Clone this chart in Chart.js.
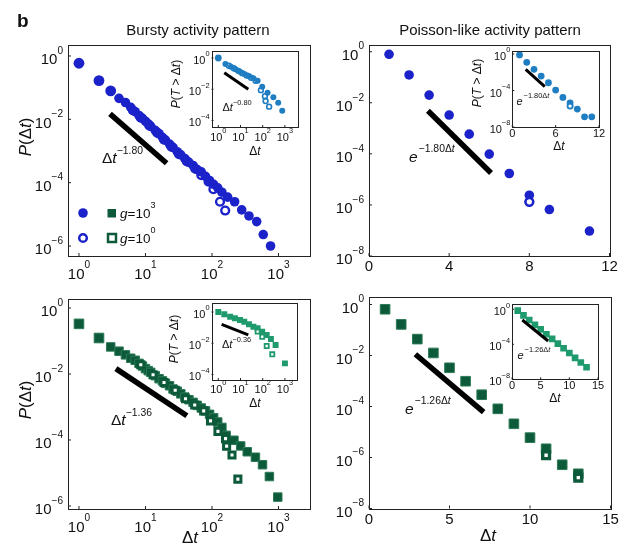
<!DOCTYPE html>
<html>
<head>
<meta charset="utf-8">
<script src="https://cdn.jsdelivr.net/npm/chart.js@4.4.1/dist/chart.umd.min.js"></script>
<style>
  html, body { margin: 0; padding: 0; background: #fff; }
  #fig { position: relative; width: 626px; height: 545px; overflow: hidden; }
  #fig canvas { position: absolute; left: 0; top: 0; }
</style>
</head>
<body>
<div id="fig">
  <canvas id="tl" width="626" height="545"></canvas>
  <canvas id="tr" width="626" height="545"></canvas>
  <canvas id="bl" width="626" height="545"></canvas>
  <canvas id="br" width="626" height="545"></canvas>
  <canvas id="tli" width="626" height="545"></canvas>
  <canvas id="tri" width="626" height="545"></canvas>
  <canvas id="bli" width="626" height="545"></canvas>
  <canvas id="bri" width="626" height="545"></canvas>
</div>
<script>
const FONT = '"Liberation Sans", Arial, Helvetica, sans-serif';
const W = 626, H = 545;

const blue = '#1b22c9', blueLight = '#1f7dc2';
const green = '#0c5a3a', greenRim = '#2c7a55', greenLight = '#1f9a6d';

// tick labels
const logDecadeTicks = [1, 10, 100, 1000];
const burstYTicks = [1, 1e-2, 1e-4, 1e-6];
const poissonYTicks = [1, 1e-2, 1e-4, 1e-6, 1e-8];
const poissonTopXTicks = [0, 4, 8, 12];
const poissonBottomXTicks = [0, 5, 10, 15];
const insetBurstYTicks = [1, 1e-2, 1e-4];
const insetPoissonYTicks = [1, 1e-4, 1e-8];
const insetPoissonTopXTicks = [0, 6, 12];
const insetPoissonBottomXTicks = [0, 5, 10, 15];

// bursty, circles (top row)
const burstDt = [1,2,3,4,5,6,7,8,9,10,11,12,14,16,18,20,23,26,30,34,39,45,52,60,69,80,92,106,122,141,172,219,280,360,470,590,760];
const burstP = [5.9e-1,1.66e-1,7.9e-2,4.6e-2,3.4e-2,2.4e-2,1.74e-2,1.32e-2,1.07e-2,8.7e-3,7.2e-3,6.0e-3,4.5e-3,3.5e-3,2.7e-3,2.2e-3,1.66e-3,1.29e-3,9.5e-4,7.6e-4,5.8e-4,4.4e-4,3.5e-4,2.6e-4,2.2e-4,1.58e-4,1.17e-4,8.9e-5,6.9e-5,5.0e-5,3.5e-5,2.5e-5,1.38e-5,8.9e-6,5.9e-6,2.3e-6,1.0e-6];
const burstDt0 = [6.5,8.5,11.5,15,19,24.5,32,42,56,69,89,105,132,158];
const burstP0 = [1.9e-2,1.12e-2,6.3e-3,3.8e-3,2.3e-3,1.38e-3,7.9e-4,4.7e-4,2.75e-4,1.74e-4,1.07e-4,6.2e-5,2.5e-5,1.32e-5];
const burstFitDt = [2.93, 20.8];
const burstFitP = [1.48e-2, 4.1e-4];

const burstCcdfDt = [1,2.1,3.7,6,9.5,14.8,24,38,59,95,166,302,500,760];
const burstCcdf = [1.0,0.42,0.275,0.19,0.132,0.093,0.071,0.05,0.035,0.0145,6.0e-3,3.0e-3,1.35e-3,4.2e-4];
const burstCcdfDt0 = [3,5,8,12,19,30,48,83,126,135,195];
const burstCcdf0 = [0.32,0.22,0.15,0.107,0.076,0.054,0.035,8.7e-3,3.6e-3,1.74e-3,7.6e-4];
const burstCcdfFitDt = [1.86, 22.4];
const burstCcdfFit = [0.115, 0.01];

// poisson-like, circles (top row)
const poisDt = [1,2,3,4,5,6,7,8,9,11];
const poisP = [0.79,0.123,0.02,3.3e-3,5.9e-4,9.8e-5,1.7e-5,2.4e-6,6.6e-7,9.5e-8];
const poisDt0 = [8];
const poisP0 = [1.32e-6];
const poisFitDt = [2.94, 6.09];
const poisFitP = [4.9e-3, 1.78e-5];

const poisCcdfDt = [1,2,3,4,5,6,7,8,9,10,11];
const poisCcdf = [0.8,0.123,0.021,3.8e-3,7.1e-4,1.1e-4,1.74e-5,4.5e-6,9.1e-7,1.3e-7,1.3e-7];
const poisCcdfDt0 = [8];
const poisCcdf0 = [1.95e-6];
const poisCcdfFitDt = [1.85, 4.5];
const poisCcdfFit = [0.021, 2.6e-4];

// bursty, squares (bottom row)
const burstSqDt = [1,2,3,4,5,6,7,8,9,10,11,12,14,16,18,20,23,26,30,34,39,45,52,60,69,80,92,106,122,141,163,214,270,339,450,575,730,975];
const burstSqP = [0.33,0.123,6.6e-2,4.9e-2,3.8e-2,3.0e-2,2.6e-2,2.1e-2,1.74e-2,1.45e-2,1.26e-2,1.12e-2,8.9e-3,7.2e-3,6.2e-3,5.2e-3,4.4e-3,3.5e-3,3.0e-3,2.5e-3,2.0e-3,1.66e-3,1.38e-3,1.12e-3,9.3e-4,7.6e-4,6.0e-4,4.7e-4,3.5e-4,2.4e-4,1.38e-4,9.8e-5,6.6e-5,4.4e-5,3.0e-5,1.78e-5,7.8e-6,1.86e-6];
const burstSqDt0 = [8.5,13,19,28,40,55,75,95,123,160,166,200,245];
const burstSqP0 = [1.9e-2,9.5e-3,5.5e-3,3.2e-3,1.78e-3,1.15e-3,7.6e-4,3.8e-4,1.82e-4,1.1e-4,6.5e-5,3.5e-5,6.5e-6];
const burstSqFitDt = [3.59, 41.9];
const burstSqFitP = [1.45e-2, 5.4e-4];

const burstSqCcdfDt = [1,1.86,3.4,5.6,9.5,14.8,24,38,59,95,151,234,380,1000];
const burstSqCcdf = [1.0,0.71,0.5,0.4,0.31,0.24,0.162,0.115,0.091,0.055,0.034,0.0186,7.6e-3,5.1e-4];
const burstSqCcdfDt0 = [59,95,151,269];
const burstSqCcdf0 = [0.055,0.026,6.6e-3,1.95e-3];
const burstSqCcdfFitDt = [1.41, 22.4];
const burstSqCcdfFit = [0.16, 0.034];

// poisson-like, squares (bottom row)
const poisSqDt = [1,2,3,4,5,6,7,8,9,10,11,12,13];
const poisSqP = [0.65,0.166,4.4e-2,1.26e-2,3.3e-3,9.8e-4,2.9e-4,8.1e-5,2.1e-5,6.0e-6,2.2e-6,5.2e-7,2.3e-7];
const poisSqDt0 = [11, 13];
const poisSqP0 = [1.23e-6, 1.62e-7];
const poisSqFitDt = [2.88, 7.12];
const poisSqFitP = [1.12e-2, 6.0e-5];

const poisSqCcdfDt = [1,2,3,4,5,6,7,8,9,10,11,12,13];
const poisSqCcdf = [0.71,0.2,0.06,0.0166,5.0e-3,1.41e-3,4.2e-4,1.2e-4,3.5e-5,1.0e-5,2.8e-6,8.3e-7,2.4e-7];
const poisSqCcdfFitDt = [1.8, 6.3];
const poisSqCcdfFit = [0.06, 2.4e-4];

// ---- helpers ----
function pts(xs, ys) { return xs.map((x, i) => ({ x: x, y: ys[i] })); }

function filled(xs, ys, color, style, r, rim, order) {
  return { data: pts(xs, ys), pointStyle: style, pointRadius: r, backgroundColor: color,
           borderColor: rim || color, borderWidth: rim ? 1 : 0, order: order == null ? 2 : order };
}
function hollow(xs, ys, color, style, r, bw, order) {
  return { data: pts(xs, ys), pointStyle: style, pointRadius: r, backgroundColor: '#fff',
           borderColor: color, borderWidth: bw, order: order == null ? 1 : order };
}
function fit(xs, ys, w) {
  return { data: pts(xs, ys), showLine: true, pointRadius: 0, borderColor: '#000',
           borderWidth: w, borderCapStyle: 'butt', order: 0 };
}

function fontOf(p, size) {
  const s = p.sup ? size * 0.67 : size;
  return (p.i ? 'italic ' : '') + (p.b ? 'bold ' : '') + s.toFixed(1) + 'px ' + FONT;
}
function drawRich(ctx, parts, size, x, y, align, rise) {
  const r = rise == null ? 0.7 : rise;
  let w = 0;
  parts.forEach(p => { ctx.font = fontOf(p, size); w += ctx.measureText(p.t).width; });
  let cx = align === 'center' ? x - w / 2 : align === 'right' ? x - w : x;
  ctx.textAlign = 'left';
  ctx.textBaseline = 'alphabetic';
  parts.forEach(p => {
    ctx.font = fontOf(p, size);
    ctx.fillText(p.t, cx, p.sup ? y - size * r : y);
    cx += ctx.measureText(p.t).width + (p.sup ? 0 : (p.gap || 0));
  });
}
function tickParts(v, log) {
  if (!log) return [{ t: String(v) }];
  const e = Math.round(Math.log10(v));
  return [{ t: '10' }, { t: e < 0 ? '\u2212' + (-e) : String(e), sup: true }];
}

const deco = {
  id: 'deco',
  beforeDraw(chart, args, o) {
    if (!o.whiteBg) return;
    const a = chart.chartArea, ctx = chart.ctx;
    ctx.save();
    ctx.fillStyle = '#fff';
    ctx.fillRect(a.left, a.top, a.right - a.left, a.bottom - a.top);
    ctx.restore();
  },
  afterDraw(chart, args, o) {
    const ctx = chart.ctx, a = chart.chartArea;
    const xs = chart.scales.x, ys = chart.scales.y;
    ctx.save();
    ctx.strokeStyle = '#222';
    ctx.lineWidth = 1;
    ctx.strokeRect(Math.round(a.left) + 0.5, Math.round(a.top) + 0.5,
                   Math.round(a.right - a.left), Math.round(a.bottom - a.top));
    ctx.fillStyle = '#111';
    o.xTicks.forEach(v => {
      const px = xs.getPixelForValue(v);
      ctx.beginPath(); ctx.moveTo(px, a.bottom); ctx.lineTo(px, a.bottom - o.tickLen); ctx.stroke();
      drawRich(ctx, tickParts(v, o.xLog), o.tickSize, px, a.bottom + o.xGap, 'center');
    });
    o.yTicks.forEach(v => {
      const py = ys.getPixelForValue(v);
      ctx.beginPath(); ctx.moveTo(a.left, py); ctx.lineTo(a.left + o.tickLen, py); ctx.stroke();
      drawRich(ctx, tickParts(v, true), o.tickSize, a.left - o.yGap, py + o.tickSize * 0.55, 'right');
    });
    (o.texts || []).forEach(t => {
      if (t.rot) {
        ctx.save();
        ctx.translate(t.x, t.y);
        ctx.rotate(-Math.PI / 2);
        drawRich(ctx, t.parts, t.size, 0, 0, 'center', t.rise);
        ctx.restore();
      } else {
        drawRich(ctx, t.parts, t.size, t.x, t.y, t.align || 'left', t.rise);
      }
    });
    if (o.legend) {
      o.legend.forEach(row => {
        ctx.lineWidth = 2.5;
        ctx.beginPath();
        if (row.hollow) {
          ctx.arc(83, row.y, 3.8, 0, Math.PI * 2);
          ctx.fillStyle = '#fff'; ctx.fill(); ctx.strokeStyle = blue; ctx.stroke();
          ctx.fillStyle = '#fff'; ctx.fillRect(108, row.y - 4, 8, 8);
          ctx.strokeStyle = green; ctx.strokeRect(108, row.y - 4, 8, 8);
        } else {
          ctx.arc(83, row.y, 4.8, 0, Math.PI * 2);
          ctx.fillStyle = blue; ctx.fill();
          ctx.fillStyle = green; ctx.fillRect(107.5, row.y - 4, 8.5, 8.5);
        }
        ctx.fillStyle = '#111';
        drawRich(ctx, [{ t: 'g', i: true }, { t: '=10' }, { t: row.exp, sup: true }], 13.5, 120, row.y + 4.5, 'left');
      });
    }
    ctx.restore();
  }
};

const dtParts = [{ t: '\u0394' }, { t: 't', i: true }];
const pTitle = [{ t: 'P', i: true }, { t: '(\u0394' }, { t: 't', i: true }, { t: ')' }];
const ccdfTitle = [{ t: 'P', i: true }, { t: '(' }, { t: 'T', i: true }, { t: ' > \u0394' }, { t: 't', i: true }, { t: ')' }];
function expParts(rate) {
  return [{ t: 'e', i: true, gap: 1 }, { t: '\u2212' + rate + '\u0394', sup: true }, { t: 't', sup: true, i: true }];
}

const mainTick = { tickSize: 15, yGap: 5, tickLen: 3 };
const insetTick = { tickSize: 11, yGap: 2, tickLen: 2 };

const panels = [
  { id: 'tl', box: [68, 45, 310, 256], xLog: true, xMin: 0.684, xMax: 2978, yMin: 4.84e-7, yMax: 2.22,
    xTicks: logDecadeTicks, yTicks: burstYTicks, xGap: 22.5, tick: mainTick,
    datasets: [
      filled(burstDt, burstP, blue, 'circle', c => c.dataIndex < 3 ? 5.4 : 4.8, null, 1),
      hollow(burstDt0, burstP0, blue, 'circle', 3.9, 2.4, 2),
      fit(burstFitDt, burstFitP, 5.5)
    ],
    texts: [
      { x: 17, y: 27, size: 19, parts: [{ t: 'b', b: true }] },
      { x: 198, y: 35, size: 15, align: 'center', parts: [{ t: 'Bursty activity pattern' }] },
      { x: 31, y: 137, size: 17, rot: true, parts: pTitle },
      { x: 102, y: 163, size: 15.5, rise: 0.55, parts: dtParts.concat([{ t: '\u22121.80', sup: true }]) }
    ],
    legend: [{ y: 213, hollow: false, exp: '3' }, { y: 238, hollow: true, exp: '0' }] },

  { id: 'tr', box: [369, 45, 609.5, 256], xLog: false, xMin: 0, xMax: 12, yMin: 1e-8, yMax: 1.83,
    xTicks: poissonTopXTicks, yTicks: poissonYTicks, xGap: 15, tick: mainTick,
    datasets: [
      filled(poisDt, poisP, blue, 'circle', 4.8),
      hollow(poisDt0, poisP0, blue, 'circle', 3.9, 2.6),
      fit(poisFitDt, poisFitP, 5.5)
    ],
    texts: [
      { x: 490, y: 35, size: 15, align: 'center', parts: [{ t: 'Poisson-like activity pattern' }] },
      { x: 409, y: 162, size: 15.5, rise: 0.62, parts: expParts('1.80') }
    ] },

  { id: 'bl', box: [68, 299, 310, 509], xLog: true, xMin: 0.684, xMax: 2978, yMin: 8.1e-7, yMax: 1.87,
    xTicks: logDecadeTicks, yTicks: burstYTicks, xGap: 22.5, tick: mainTick,
    datasets: [
      filled(burstSqDt, burstSqP, green, 'rect', c => c.dataIndex < 2 ? 6.8 : 6, greenRim),
      hollow(burstSqDt0, burstSqP0, green, 'rect', 4.3, 3),
      fit(burstSqFitDt, burstSqFitP, 5.5)
    ],
    texts: [
      { x: 31, y: 400, size: 17, rot: true, parts: pTitle },
      { x: 190, y: 543, size: 17, align: 'center', parts: dtParts },
      { x: 111, y: 425, size: 15.5, rise: 0.55, parts: dtParts.concat([{ t: '\u22121.36', sup: true }]) }
    ] },

  { id: 'br', box: [369, 297, 610.5, 508.5], xLog: false, xMin: 0, xMax: 15, yMin: 1e-8, yMax: 1.97,
    xTicks: poissonBottomXTicks, yTicks: poissonYTicks, xGap: 15.5, tick: mainTick,
    datasets: [
      filled(poisSqDt, poisSqP, green, 'rect', 6.8, greenRim),
      hollow(poisSqDt0, poisSqP0, green, 'rect', 4.8, 3.4),
      fit(poisSqFitDt, poisSqFitP, 5.5)
    ],
    texts: [
      { x: 488, y: 541, size: 17, align: 'center', parts: dtParts },
      { x: 405, y: 414, size: 15.5, rise: 0.62, parts: expParts('1.26') }
    ] },

  { id: 'tli', box: [211.5, 51, 297.5, 127], xLog: true, xMin: 0.494, xMax: 3700, yMin: 3.78e-5, yMax: 2.81,
    xTicks: logDecadeTicks, yTicks: insetBurstYTicks, xGap: 13.5, tick: insetTick, whiteBg: true,
    datasets: [
      filled(burstCcdfDt, burstCcdf, blueLight, 'circle', c => c.dataIndex === 0 ? 3.4 : 3.0, null, 1),
      hollow(burstCcdfDt0, burstCcdf0, blueLight, 'circle', 2.4, 1.6, 2),
      fit(burstCcdfFitDt, burstCcdfFit, 3)
    ],
    texts: [
      { x: 179.5, y: 84, size: 12, rot: true, parts: ccdfTitle },
      { x: 255, y: 155, size: 12, align: 'center', parts: dtParts },
      { x: 222.5, y: 111, size: 11, rise: 0.55, parts: dtParts.concat([{ t: '\u22120.80', sup: true }]) }
    ] },

  { id: 'tri', box: [512.3, 51, 599, 127], xLog: false, xMin: 0, xMax: 12, yMin: 1e-8, yMax: 2.13,
    xTicks: insetPoissonTopXTicks, yTicks: insetPoissonYTicks, xGap: 9.5, tick: insetTick, whiteBg: true,
    datasets: [
      filled(poisCcdfDt, poisCcdf, blueLight, 'circle', 3.4),
      hollow(poisCcdfDt0, poisCcdf0, blueLight, 'circle', 2.6, 1.8),
      fit(poisCcdfFitDt, poisCcdfFit, 3)
    ],
    texts: [
      { x: 480.5, y: 83, size: 12, rot: true, parts: ccdfTitle },
      { x: 559, y: 150, size: 12, align: 'center', parts: dtParts },
      { x: 516.5, y: 105, size: 11, rise: 0.62, parts: expParts('1.80') }
    ] },

  { id: 'bli', box: [211.5, 303, 296.5, 380], xLog: true, xMin: 0.494, xMax: 3317, yMin: 4.38e-5, yMax: 3.78,
    xTicks: logDecadeTicks, yTicks: insetBurstYTicks, xGap: 13, tick: insetTick, whiteBg: true,
    datasets: [
      filled(burstSqCcdfDt, burstSqCcdf, greenLight, 'rect', 4.2),
      hollow(burstSqCcdfDt0, burstSqCcdf0, greenLight, 'rect', 2.9, 1.8),
      fit(burstSqCcdfFitDt, burstSqCcdfFit, 3)
    ],
    texts: [
      { x: 177.5, y: 339, size: 12, rot: true, parts: ccdfTitle },
      { x: 255, y: 407, size: 12, align: 'center', parts: dtParts },
      { x: 222, y: 348, size: 11, rise: 0.55, parts: dtParts.concat([{ t: '\u22120.36', sup: true }]) }
    ] },

  { id: 'bri', box: [512, 304.3, 598, 379.3], xLog: false, xMin: 0, xMax: 15, yMin: 1e-8, yMax: 3.73,
    xTicks: insetPoissonBottomXTicks, yTicks: insetPoissonYTicks, xGap: 9.5, tick: insetTick, whiteBg: true,
    datasets: [
      filled(poisSqCcdfDt, poisSqCcdf, greenLight, 'rect', 4.7),
      fit(poisSqCcdfFitDt, poisSqCcdfFit, 3)
    ],
    texts: [
      { x: 555, y: 402, size: 12, align: 'center', parts: dtParts },
      { x: 517.5, y: 359, size: 11, rise: 0.62, parts: expParts('1.26') }
    ] }
];

panels.forEach(p => {
  const b = p.box;
  new Chart(document.getElementById(p.id), {
    type: 'scatter',
    data: { datasets: p.datasets },
    options: {
      responsive: false,
      animation: false,
      devicePixelRatio: 1,
      events: [],
      layout: { autoPadding: false, padding: { left: b[0], top: b[1], right: W - b[2], bottom: H - b[3] } },
      scales: {
        x: { type: p.xLog ? 'logarithmic' : 'linear', min: p.xMin, max: p.xMax, bounds: 'data', display: false },
        y: { type: 'logarithmic', min: p.yMin, max: p.yMax, bounds: 'data', display: false }
      },
      plugins: {
        legend: { display: false },
        tooltip: { enabled: false },
        deco: Object.assign({ xTicks: p.xTicks, yTicks: p.yTicks, xLog: p.xLog, xGap: p.xGap,
                              texts: p.texts, legend: p.legend, whiteBg: p.whiteBg }, p.tick)
      }
    },
    plugins: [deco]
  });
});
</script>
</body>
</html>
